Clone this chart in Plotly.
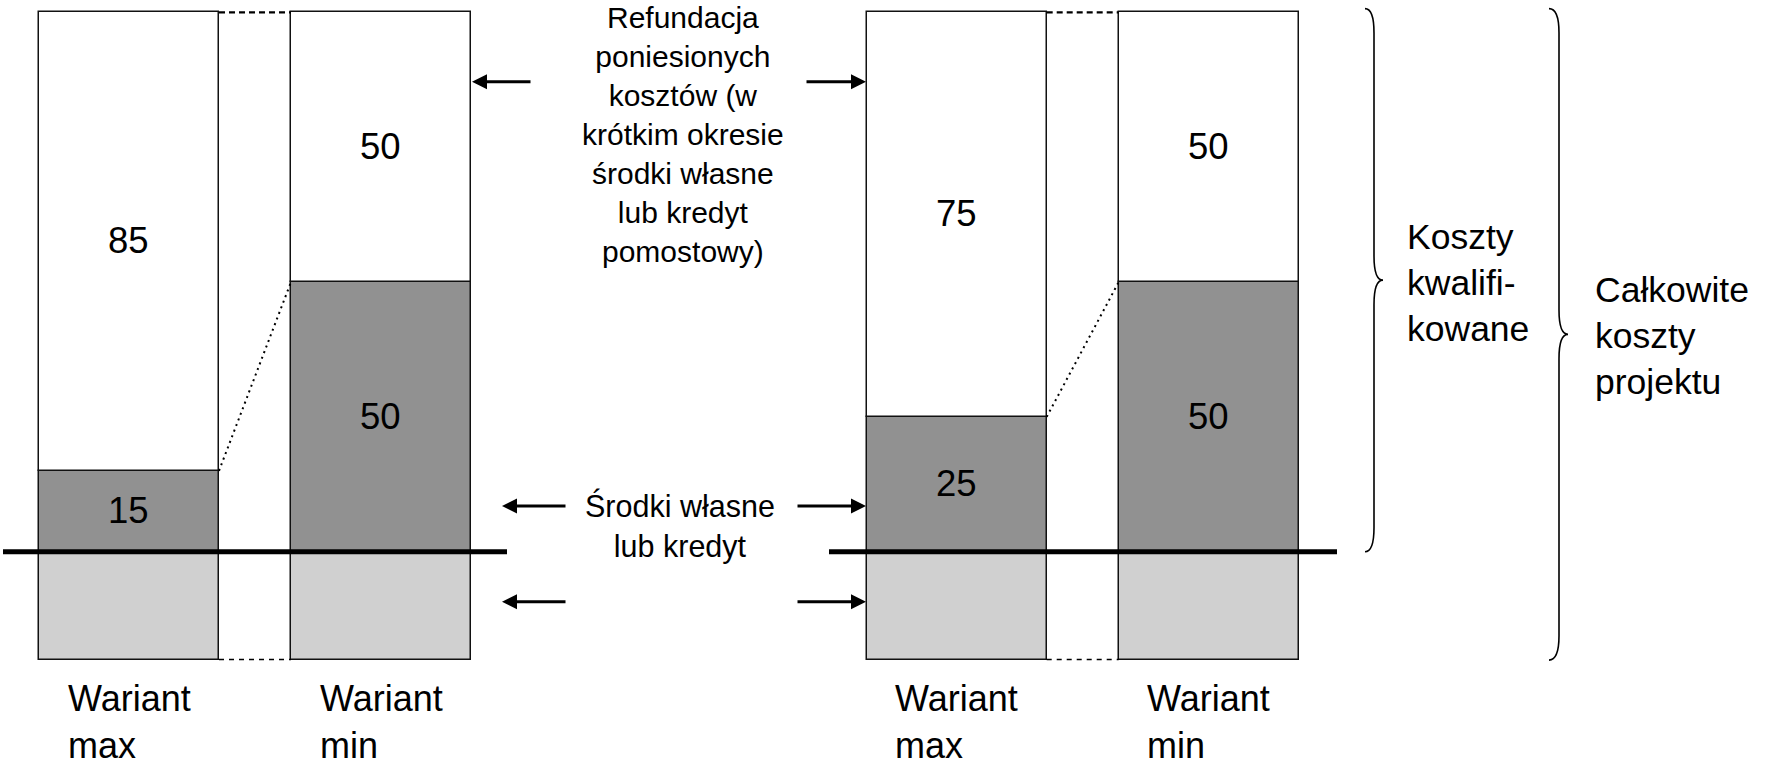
import plotly.graph_objects as go

# ---------------- data ----------------
categories = ["Wariant<br>max", "Wariant<br>min", "Wariant<br>max", "Wariant<br>min"]
own_funds = [15, 50, 25, 50]          # Środki własne lub kredyt (dark grey)
refund = [85, 50, 75, 50]             # Refundacja poniesionych kosztów (white)
non_qualified = [20, 20, 20, 20]      # costs outside qualified costs (light grey, unlabeled)

text_refund = ("Refundacja<br>poniesionych<br>kosztów (w<br>krótkim okresie<br>"
               "środki własne<br>lub kredyt<br>pomostowy)")
text_own = "Środki własne<br>lub kredyt"
text_qual = "Koszty<br>kwalifi-<br>kowane"
text_total = "Całkowite<br>koszty<br>projektu"

# ---------------- layout constants ----------------
W, H = 1766, 769
ZERO_PX = 551.7          # pixel row of value 0
PX_PER_UNIT = 5.393      # pixels per value unit
Y_TOP = ZERO_PX / PX_PER_UNIT
Y_BOT = (ZERO_PX - H) / PX_PER_UNIT


def yv(px):
    """pixel row -> axis value (for placing annotations)"""
    return (ZERO_PX - px) / PX_PER_UNIT


GROUP_X0 = [39, 866.7]
BAR_W = 180
PAIR_GAP = 72
xs = []
for gx in GROUP_X0:
    xs.append(gx + BAR_W / 2)
    xs.append(gx + BAR_W + PAIR_GAP + BAR_W / 2)

FONT = "Liberation Sans, Arial, sans-serif"
DARK = "#919191"
LIGHT = "#d0d0d0"
EDGE = dict(color="#111111", width=1.5)

fig = go.Figure()
fig.add_trace(go.Bar(x=xs, y=[-v for v in non_qualified], width=BAR_W,
                     marker=dict(color=LIGHT, line=EDGE), hoverinfo="skip"))
fig.add_trace(go.Bar(x=xs, y=own_funds, width=BAR_W, text=own_funds,
                     textposition="inside", insidetextanchor="middle", textangle=0,
                     constraintext="none",
                     textfont=dict(size=36.5, color="black", family=FONT),
                     marker=dict(color=DARK, line=EDGE), hoverinfo="skip"))
fig.add_trace(go.Bar(x=xs, y=refund, width=BAR_W, text=refund,
                     textposition="inside", insidetextanchor="middle", textangle=0,
                     constraintext="none",
                     textfont=dict(size=36.5, color="black", family=FONT),
                     marker=dict(color="white", line=EDGE), hoverinfo="skip"))

shapes = []
# connectors between max and min variant within each group
for g in range(2):
    i, j = 2 * g, 2 * g + 1
    xr = xs[i] + BAR_W / 2
    xl = xs[j] - BAR_W / 2
    top_i = own_funds[i] + refund[i]
    top_j = own_funds[j] + refund[j]
    shapes.append(dict(type="line", x0=xr, x1=xl, y0=top_i, y1=top_j, xref="x", yref="y",
                       line=dict(color="black", width=2.2, dash="6px,4px")))
    shapes.append(dict(type="line", x0=xr, x1=xl, y0=-non_qualified[i], y1=-non_qualified[j],
                       xref="x", yref="y", line=dict(color="black", width=1.6, dash="5px,5px")))
    shapes.append(dict(type="line", x0=xr, x1=xl, y0=own_funds[i], y1=own_funds[j],
                       xref="x", yref="y", line=dict(color="black", width=2, dash="2px,4px")))

# thick base lines at zero
for x0, x1 in [(3, 507), (829, 1337)]:
    shapes.append(dict(type="line", x0=x0, x1=x1, y0=0, y1=0, xref="x", yref="y",
                       line=dict(color="black", width=5), layer="above"))


def brace(xa, xb, xc, top, bot, r):
    mid = (top + bot) / 2
    return (f"M{xa},{top} Q{xb},{top} {xb},{top - r} L{xb},{mid + r} "
            f"Q{xb},{mid} {xc},{mid} Q{xb},{mid} {xb},{mid - r} "
            f"L{xb},{bot + r} Q{xb},{bot} {xa},{bot}")


total_top = max(o + r for o, r in zip(own_funds, refund)) + 0.7
shapes.append(dict(type="path", path=brace(1365, 1374, 1383, total_top, 0, 4.5),
                   xref="x", yref="y", line=dict(color="black", width=1.6)))
shapes.append(dict(type="path", path=brace(1549, 1559, 1568, total_top, -max(non_qualified) - 0.1, 4.5),
                   xref="x", yref="y", line=dict(color="black", width=1.6)))

annotations = []
# arrows
for ypx, (lt, lh, rt, rh) in [(81.7, (532, 472, 805, 866)),
                              (506, (567, 502, 796, 866)),
                              (601.7, (567, 502, 796, 866))]:
    for tail, head in [(lt, lh), (rt, rh)]:
        annotations.append(dict(x=head, y=yv(ypx), ax=tail, ay=yv(ypx), xref="x", yref="y",
                                axref="x", ayref="y", text="", showarrow=True,
                                arrowhead=2, arrowwidth=3, arrowsize=1, arrowcolor="black",
                                standoff=0))

annotations.append(dict(x=683, y=yv(134), xref="x", yref="y", text=text_refund,
                        showarrow=False, align="center", xanchor="center", yanchor="middle",
                        font=dict(size=30, color="black", family=FONT)))
annotations.append(dict(x=680, y=yv(526), xref="x", yref="y", text=text_own,
                        showarrow=False, align="center", xanchor="center", yanchor="middle",
                        font=dict(size=30.5, color="black", family=FONT)))
annotations.append(dict(x=1405, y=yv(283), xref="x", yref="y", text=text_qual,
                        showarrow=False, align="left", xanchor="left", yanchor="middle",
                        font=dict(size=35.5, color="black", family=FONT)))
annotations.append(dict(x=1593, y=yv(336), xref="x", yref="y", text=text_total,
                        showarrow=False, align="left", xanchor="left", yanchor="middle",
                        font=dict(size=35.5, color="black", family=FONT)))
for xc, lab in zip(xs, categories):
    annotations.append(dict(x=xc, y=yv(722), xref="x", yref="y", text=lab,
                            showarrow=False, align="left", xanchor="center", yanchor="middle",
                            font=dict(size=36, color="black", family=FONT)))

fig.update_layout(
    width=W, height=H, margin=dict(l=0, r=0, t=0, b=0),
    paper_bgcolor="white", plot_bgcolor="white",
    barmode="relative", bargap=0, showlegend=False,
    xaxis=dict(range=[0, W], visible=False, fixedrange=True),
    yaxis=dict(range=[Y_BOT, Y_TOP], visible=False, fixedrange=True),
    shapes=shapes, annotations=annotations,
    uniformtext=dict(mode=False),
)
fig.write_html("out.html", config={"displayModeBar": False},
               post_script="document.body.style.margin='0';")
